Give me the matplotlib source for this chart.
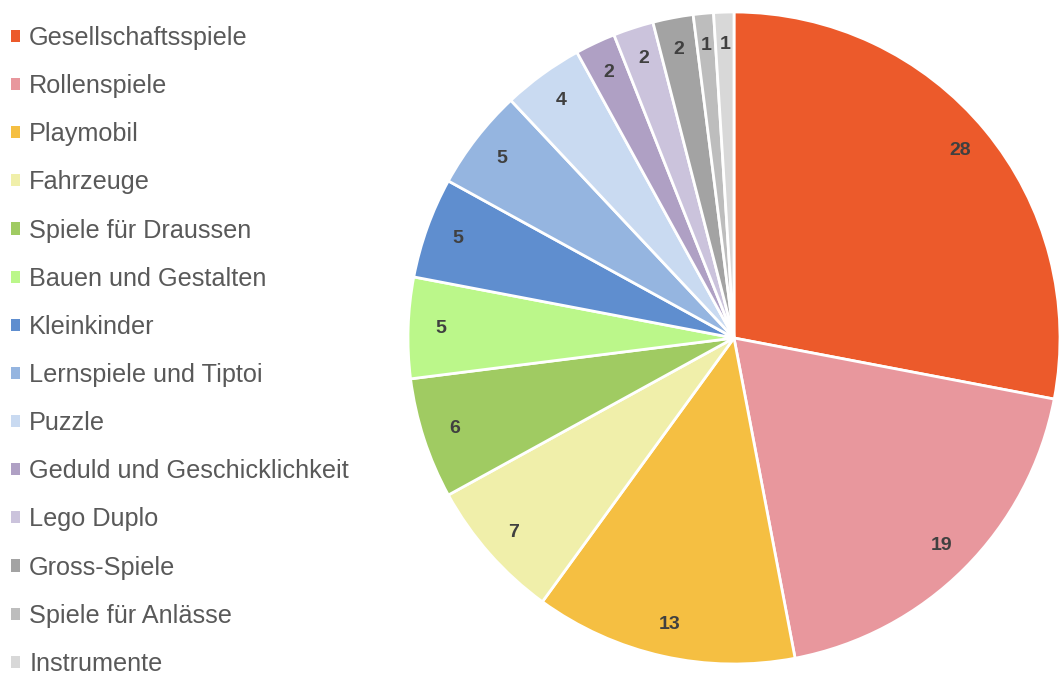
import matplotlib.pyplot as plt
from matplotlib.patches import Patch

plt.rcParams['font.family'] = ['Liberation Sans', 'DejaVu Sans']

categories = ["Gesellschaftsspiele", "Rollenspiele", "Playmobil", "Fahrzeuge",
              "Spiele für Draussen", "Bauen und Gestalten", "Kleinkinder",
              "Lernspiele und Tiptoi", "Puzzle", "Geduld und Geschicklichkeit",
              "Lego Duplo", "Gross-Spiele", "Spiele für Anlässe", "Instrumente"]
values = [28, 19, 13, 7, 6, 5, 5, 5, 4, 2, 2, 2, 1, 1]
colors = ["#EC5A2B", "#E8979D", "#F5BF42", "#F0EFAA", "#A0CB62", "#BBF78A",
          "#5F8ECF", "#95B5E0", "#C9DAF1", "#AFA0C4", "#CBC3DC", "#A3A3A3",
          "#BDBDBD", "#D8D8D8"]

W, H = 1059, 682
fig = plt.figure(figsize=(W / 100, H / 100), dpi=100)

# pie axes: centre ~ (734, 338) px, radius ~ 326 px
cx, cy, r = 734, 338, 326
ax = fig.add_axes([(cx - r) / W, (H - cy - r) / H, 2 * r / W, 2 * r / H])
wedges, texts = ax.pie(values, colors=colors, startangle=90, counterclock=False,
                       labels=[str(v) for v in values], labeldistance=0.9,
                       wedgeprops=dict(edgecolor="white", linewidth=2))
for t in texts:
    t.set_fontsize(14)
    t.set_fontweight("bold")
    t.set_color("#404040")
    t.set_ha("center")
    t.set_va("center")
ax.set_xlim(-1, 1)
ax.set_ylim(-1, 1)
ax.set_aspect("equal")

handles = [Patch(facecolor=c, edgecolor="none") for c in colors]
leg = fig.legend(handles, categories, loc="upper left",
                 bbox_to_anchor=(11 / W, (H - 26) / H), frameon=False,
                 fontsize=18.2, labelcolor="#595959",
                 handlelength=0.36, handleheight=0.36, handletextpad=0.36,
                 labelspacing=0.955, borderaxespad=0.0, borderpad=0.0)

fig.savefig("out.png", dpi=100)
